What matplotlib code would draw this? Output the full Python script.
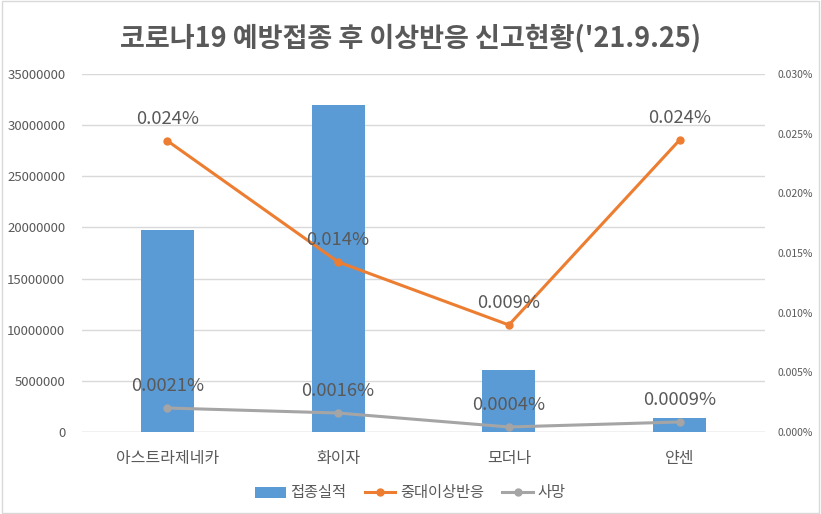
import matplotlib
matplotlib.use("Agg")
import matplotlib.pyplot as plt
from matplotlib.ticker import FuncFormatter, MultipleLocator
from matplotlib.patches import Rectangle
from matplotlib.lines import Line2D
from matplotlib.patches import Patch

plt.rcParams['font.family'] = ['Noto Sans CJK KR', 'DejaVu Sans']

title = "코로나19 예방접종 후 이상반응 신고현황('21.9.25)"
categories = ["아스트라제네카", "화이자", "모더나", "얀센"]
vaccinations = [19750000, 31970000, 6060000, 1370000]
serious_pct = [0.0244, 0.01425, 0.00897, 0.02447]
serious_labels = ["0.024%", "0.014%", "0.009%", "0.024%"]
death_pct = [0.00201, 0.00159, 0.00042, 0.00084]
death_labels = ["0.0021%", "0.0016%", "0.0004%", "0.0009%"]
series_names = ["접종실적", "중대이상반응", "사망"]

TXT = "#595959"
BLUE = "#5B9BD5"
ORANGE = "#ED7D31"
GRAY = "#A5A5A5"
GRID = "#D9D9D9"

fig = plt.figure(figsize=(8.21, 5.14), dpi=100)
ax1 = fig.add_axes([82/821, 1-432/514, (765-82)/821, (432-74)/514])
ax2 = ax1.twinx()

x = list(range(len(categories)))
ax1.bar(x, vaccinations, width=0.31, color=BLUE, zorder=2)
ax1.set_xlim(-0.5, len(categories)-0.5)
ax1.set_ylim(0, 35000000)
ax1.yaxis.set_major_locator(MultipleLocator(5000000))
ax1.yaxis.set_major_formatter(FuncFormatter(lambda v, p: f"{int(v)}"))
ax1.grid(axis='y', color=GRID, linewidth=1, zorder=0)
ax1.set_axisbelow(True)
ax1.set_xticks(x)
ax1.set_xticklabels(categories, fontsize=11.5, color=TXT)
ax1.tick_params(axis='x', length=0, pad=13)
ax1.tick_params(axis='y', length=0, pad=12, labelsize=9.5, labelcolor=TXT)

ax2.plot(x, serious_pct, color=ORANGE, linewidth=2.2, marker='o', markersize=5, zorder=3)
ax2.plot(x, death_pct, color=GRAY, linewidth=2.2, marker='o', markersize=5, zorder=3)
ax2.set_ylim(0, 0.030)
ax2.yaxis.set_major_locator(MultipleLocator(0.005))
ax2.yaxis.set_major_formatter(FuncFormatter(lambda v, p: f"{v:.3f}%"))
ax2.tick_params(axis='y', length=0, pad=9, labelsize=7.5, labelcolor=TXT)

for xi, v, lab in zip(x, serious_pct, serious_labels):
    ax2.annotate(lab, (xi, v), xytext=(0, 15.5), textcoords='offset points',
                 ha='center', va='center', fontsize=13.3, color=TXT, zorder=5)
for xi, v, lab in zip(x, death_pct, death_labels):
    ax2.annotate(lab, (xi, v), xytext=(0, 15.5), textcoords='offset points',
                 ha='center', va='center', fontsize=13.3, color=TXT, zorder=5)

for ax in (ax1, ax2):
    for s in ax.spines.values():
        s.set_visible(False)
ax1.axhline(0, color=GRID, linewidth=1, zorder=1)

fig.text(0.5, 1-38/514, title, ha='center', va='center', fontsize=19.5,
         fontweight='bold', color=TXT)

handles = [Patch(facecolor=BLUE, edgecolor='none'),
           Line2D([], [], color=ORANGE, linewidth=2.2, marker='o', markersize=5),
           Line2D([], [], color=GRAY, linewidth=2.2, marker='o', markersize=5)]
fig.legend(handles, series_names, loc='center', bbox_to_anchor=(0.5, 1-493/514),
           ncol=3, frameon=False, fontsize=11, labelcolor=TXT,
           handlelength=2.0, handletextpad=0.3, columnspacing=1.2)

fig.patches.append(Rectangle((0.002, 0.002), 0.996, 0.996, transform=fig.transFigure,
                             fill=False, edgecolor=GRID, linewidth=1))

fig.savefig("out.png", dpi=100)
